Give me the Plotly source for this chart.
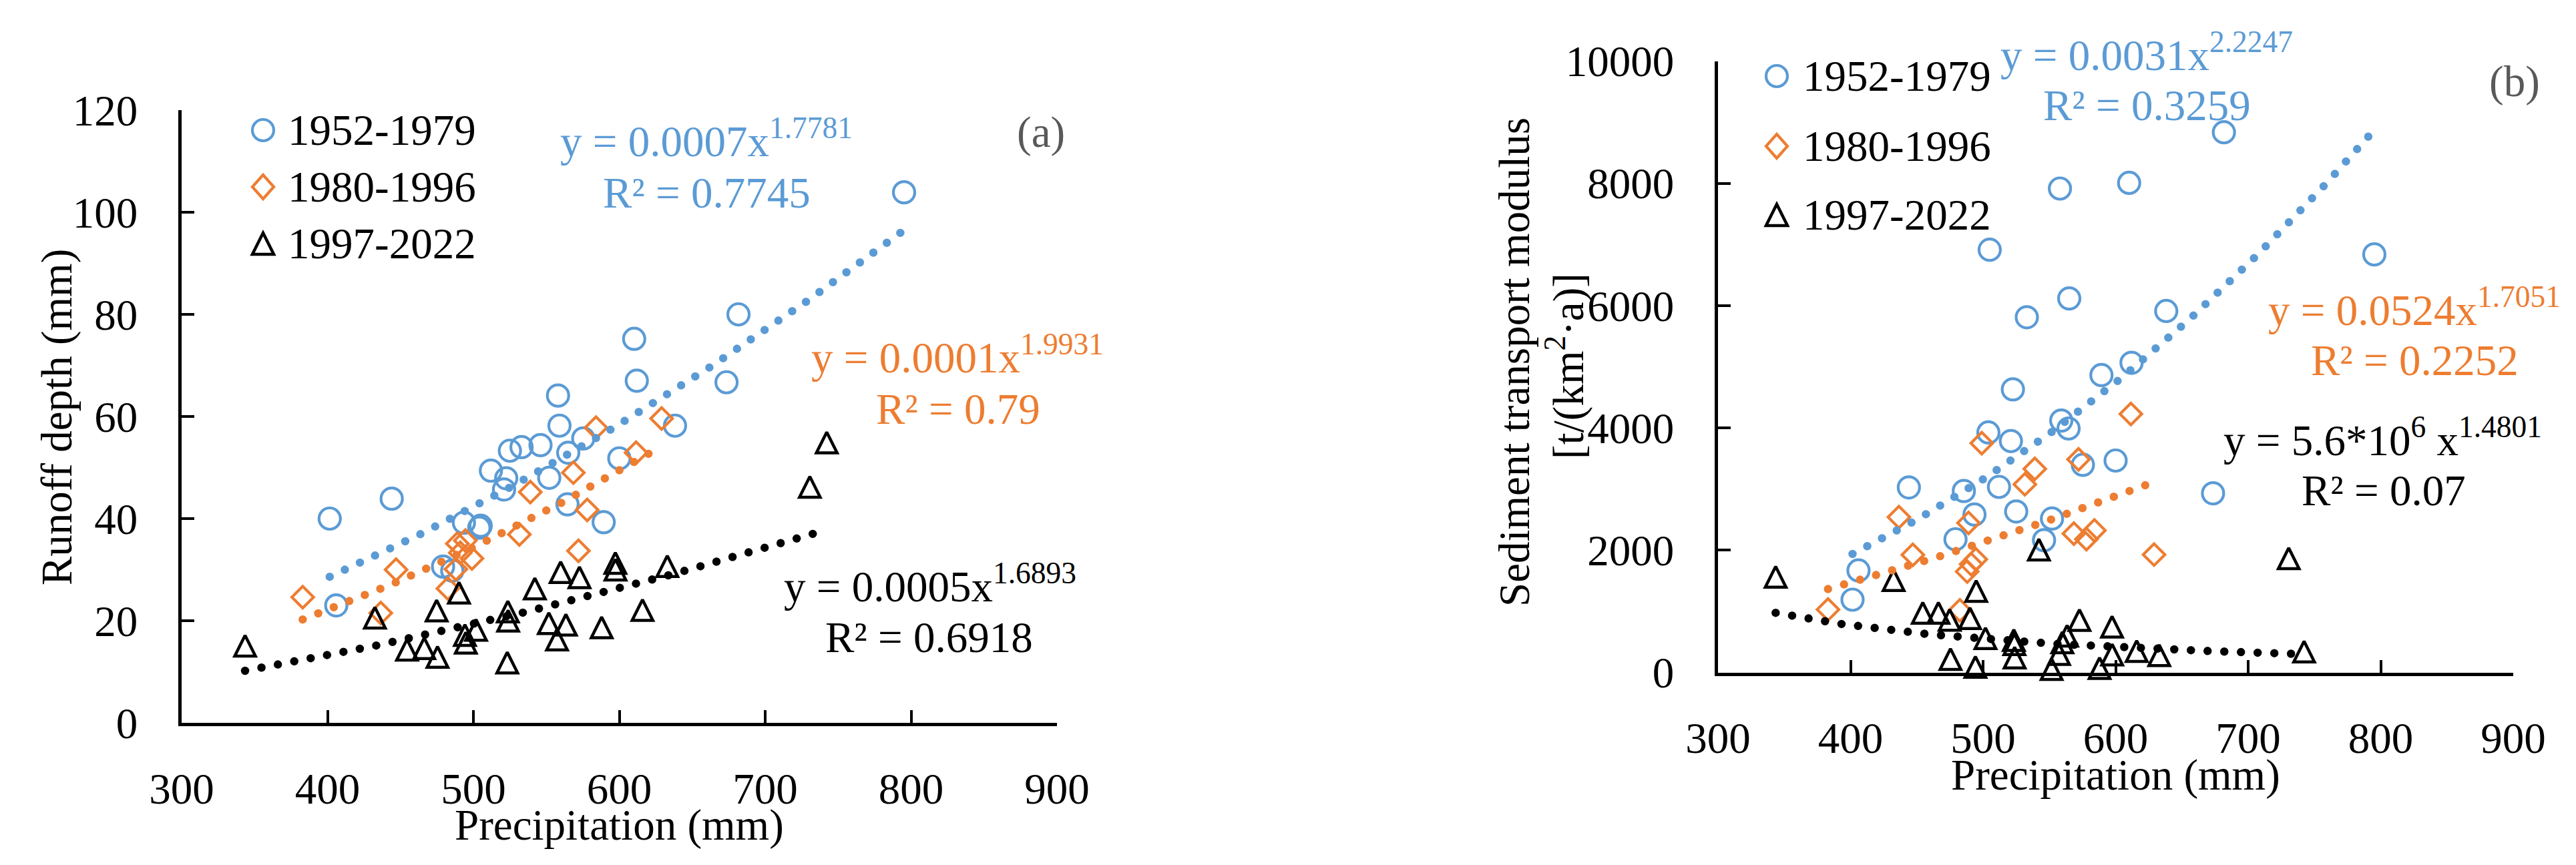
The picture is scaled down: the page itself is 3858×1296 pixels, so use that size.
import numpy as np
import plotly.graph_objects as go

# ---- data (precipitation shared by both panels) ----
periods = ['1952-1979', '1980-1996', '1997-2022']

precip_1952 = [401.5, 406, 444, 479.2, 485.5, 493.5, 504, 505, 512, 521, 522.5, 525, 533, 546,
               552, 558, 559, 564.5, 565, 575.3, 589.3, 600, 610.2, 612, 638.2, 673.5, 681.7, 795.2]
runoff_1952 = [40.0, 23.0, 43.9, 30.6, 29.8, 39.2, 38.2, 38.6, 49.4, 45.7, 47.9, 53.3, 54.0, 54.4,
               48.0, 64.1, 58.2, 42.8, 52.9, 55.7, 39.3, 51.8, 75.2, 67.0, 58.2, 66.7, 80.0, 103.9]
sediment_1952 = [1190, 1668, 3026, 2178, 2968, 2583, 3925, 6914, 3035, 3785, 4630, 2633, 5810, 2163,
                 2517, 7915, 4120, 3990, 6118, 3396, 4864, 3466, 8008, 5065, 5912, 2930, 8835, 6838]

precip_1980 = [383, 436.5, 447, 482.5, 488, 489, 491, 494.5, 499, 531.5, 539, 568.5, 572, 578,
               584, 611.5, 629]
runoff_1980 = [24.6, 21.5, 30.0, 26.3, 30.1, 35.1, 33.3, 35.7, 32.2, 36.9, 45.2, 49.0, 33.7, 41.7,
               57.8, 52.9, 59.6]
sediment_1980 = [1030, 2540, 1925, 1015, 1650, 2445, 1770, 1850, 3750, 3077, 3330, 2270, 3485, 2180,
                 2322, 4228, 1928]

precip_1997 = [343.5, 432.5, 454.5, 466.3, 474.8, 475.4, 490.1, 494.2, 494.8, 501.8, 523.2, 523.6,
               523.8, 542.1, 551.7, 557.3, 559.8, 563.4, 572.7, 587.9, 597.3, 597.4, 615.9, 632.9,
               730.6, 742.2]
runoff_1997 = [15.1, 20.6, 14.3, 14.6, 22.0, 12.9, 25.5, 17.2, 15.7, 18.2, 11.8, 21.8, 20.0, 26.3,
               19.5, 16.3, 29.5, 19.2, 28.5, 18.7, 31.3, 30.0, 22.1, 30.7, 46.2, 54.9]
sediment_1997 = [1565, 1510, 975, 975, 860, 218, 888, 90, 1332, 560, 530, 461, 242, 2010, 55, 300,
                 490, 600, 858, 70, 749, 292, 350, 280, 1866, 340]

# equation labels as printed on the chart
eq_runoff = ['y = 0.0007x<sup>1.7781</sup>', 'y = 0.0001x<sup>1.9931</sup>', 'y = 0.0005x<sup>1.6893</sup>']
r2_runoff = ['R² = 0.7745', 'R² = 0.79', 'R² = 0.6918']
eq_sed = ['y = 0.0031x<sup>2.2247</sup>', 'y = 0.0524x<sup>1.7051</sup>', 'y = 5.6*10<sup>6</sup> x<sup>1.4801</sup>']
r2_sed = ['R² = 0.3259', 'R² = 0.2252', 'R² = 0.07']

# ---- styling ----
W, H = 3858, 1296
BLUE, ORANGE, BLACK = '#5B9BD5', '#ED7D31', '#000000'
colors = [BLUE, ORANGE, BLACK]
FONT = 'Liberation Serif, Times New Roman, serif'
FS = 65


def px(x):
    return x / W


def py(y):
    return 1 - y / H


def power_fit(x, y):
    # Excel-style power trendline: least squares in log-log space
    b, ln_a = np.polyfit(np.log(x), np.log(y), 1)
    xs = np.linspace(min(x), max(x), 200)
    return xs, np.exp(ln_a) * xs ** b


# the triangle is an arrow flipped upright and centred with standoff (w == h like Excel's)
marker_styles = [
    dict(symbol='circle-open', size=32, line=dict(width=4.2)),
    dict(symbol='diamond-open', size=25, line=dict(width=4.2)),
    dict(symbol='arrow-down-open', size=31, angle=180, standoff=15.5, line=dict(width=4.5)),
]

fig = go.Figure()

panels = [
    ('x', 'y', [precip_1952, precip_1980, precip_1997], [runoff_1952, runoff_1980, runoff_1997]),
    ('x2', 'y2', [precip_1952, precip_1980, precip_1997], [sediment_1952, sediment_1980, sediment_1997]),
]

for xa, ya, xs_list, ys_list in panels:
    for i in range(3):
        m = dict(marker_styles[i])
        m['color'] = colors[i]
        m['line'] = dict(m['line'], color=colors[i])
        fig.add_trace(go.Scatter(x=xs_list[i], y=ys_list[i], mode='markers', marker=m,
                                 name=periods[i], showlegend=False, cliponaxis=False,
                                 xaxis=xa, yaxis=ya))
    for i in range(3):
        tx, ty = power_fit(xs_list[i], ys_list[i])
        fig.add_trace(go.Scatter(x=tx, y=ty, mode='lines',
                                 line=dict(color=colors[i], width=12.5, dash='0px,25px'),
                                 showlegend=False, hoverinfo='skip', cliponaxis=False,
                                 xaxis=xa, yaxis=ya))

axis_common = dict(showgrid=False, zeroline=False, showline=True, linecolor='black', linewidth=4.5,
                   ticks='inside', ticklen=19, tickwidth=4, tickcolor='black', automargin=False,
                   tickformat='d', tickfont=dict(family=FONT, size=FS, color='black'))

fig.update_layout(
    width=W, height=H,
    margin=dict(l=0, r=0, t=0, b=0, pad=0, autoexpand=False),
    paper_bgcolor='white', plot_bgcolor='white',
    showlegend=False,
    xaxis=dict(domain=[px(264), px(1575)], range=[300, 900], dtick=100, anchor='y',
               ticklabelstandoff=38, **axis_common),
    yaxis=dict(domain=[py(1075), py(157)], range=[0, 120], dtick=20, anchor='x',
               ticklabelstandoff=48, **axis_common),
    xaxis2=dict(domain=[px(2565), px(3756)], range=[300, 900], dtick=100, anchor='y2',
                ticklabelstandoff=38, **axis_common),
    yaxis2=dict(domain=[py(999.5), py(83.5)], range=[0, 10000], dtick=2000, anchor='x2',
                ticklabelstandoff=48, **axis_common),
)

annotations = []


def note(text, x, y, color='black', xanchor='center', yanchor='middle', angle=0, size=FS):
    annotations.append(dict(text=text, x=px(x), y=py(y), xref='paper', yref='paper',
                            xanchor=xanchor, yanchor=yanchor, textangle=angle, showarrow=False,
                            font=dict(family=FONT, size=size, color=color)))


# axis titles
note('Runoff depth (mm)', 77, 617, angle=-90)
note('Precipitation (mm)', 919, 1266, yanchor='bottom')
note('Sediment transport modulus', 2260, 535, angle=-90)
note('[t/(km<sup>2</sup>·a)]', 2336, 541, angle=-90)
note('Precipitation (mm)', 3160, 1191, yanchor='bottom')

# panel letters
note('(a)', 1551, 190, color='#595959')
note('(b)', 3758, 114, color='#595959')

# fitted equations
eq_pos_a = [(1050, 242, 1050, 319), (1426, 566, 1427, 643), (1385, 909, 1383, 985)]
eq_pos_b = [(3207, 113, 3207, 188), (3608, 495, 3608, 570), (3560, 690, 3562, 765)]
for i in range(3):
    x1, y1, x2, y2 = eq_pos_a[i]
    note(eq_runoff[i], x1, y1, color=colors[i], yanchor='bottom')
    note(r2_runoff[i], x2, y2, color=colors[i], yanchor='bottom')
    x1, y1, x2, y2 = eq_pos_b[i]
    note(eq_sed[i], x1, y1, color=colors[i], yanchor='bottom')
    note(r2_sed[i], x2, y2, color=colors[i], yanchor='bottom')

# hand-built legends (plotly caps legend symbols at 16px)
shapes = []


def legend_symbol(kind, cx, cy, color, r=16):
    if kind == 0:
        shapes.append(dict(type='circle', xref='paper', yref='paper',
                           x0=px(cx - r), x1=px(cx + r), y0=py(cy + r), y1=py(cy - r),
                           line=dict(color=color, width=4.2)))
        return
    if kind == 1:
        pts = [(cx, cy - r - 2), (cx + r, cy), (cx, cy + r + 2), (cx - r, cy)]
    else:
        pts = [(cx, cy - r), (cx + r, cy + r), (cx - r, cy + r)]
    path = 'M ' + ' L '.join(f'{px(a):.5f},{py(b):.5f}' for a, b in pts) + ' Z'
    shapes.append(dict(type='path', xref='paper', yref='paper', path=path,
                       line=dict(color=color, width=4.5 if kind == 2 else 4.2)))


legend_a = (386, 421, [187, 272, 357])
legend_b = (2653, 2690, [106, 211, 314])
for sx, tx, rows in (legend_a, legend_b):
    for i in range(3):
        legend_symbol(i, sx, rows[i], colors[i])
        note(periods[i], tx, rows[i], xanchor='left')

fig.update_layout(annotations=annotations, shapes=shapes)

# round caps turn the zero-length dashes into Excel-like round dots
post = "document.querySelectorAll('path.js-line').forEach(function(p){p.style.strokeLinecap='round';});"
fig.write_html("out.html", post_script=post)
